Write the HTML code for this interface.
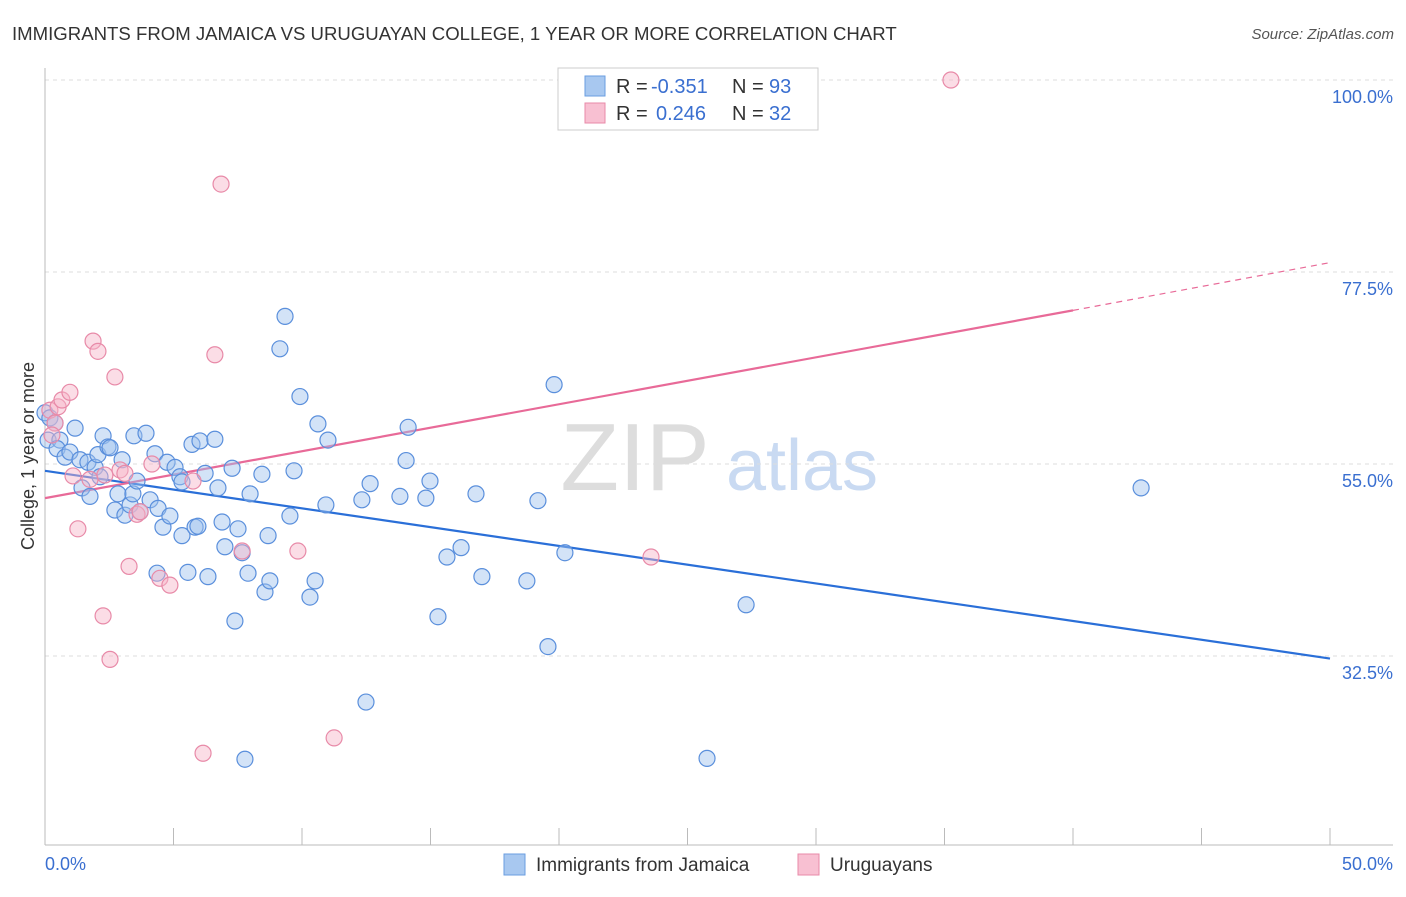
<!DOCTYPE html>
<html><head><meta charset="utf-8"><style>
body{margin:0;background:#fff;font-family:"Liberation Sans",sans-serif}
svg text{font-family:"Liberation Sans",sans-serif}
</style></head><body>
<svg id="chart" width="1406" height="892" xmlns="http://www.w3.org/2000/svg">
<text x="12" y="40" font-size="18.6" fill="#333">IMMIGRANTS FROM JAMAICA VS URUGUAYAN COLLEGE, 1 YEAR OR MORE CORRELATION CHART</text>
<text x="1394" y="39" font-size="15" fill="#555" font-style="italic" text-anchor="end">Source: ZipAtlas.com</text>
<text transform="translate(34,456) rotate(-90)" font-size="18" fill="#333" text-anchor="middle">College, 1 year or more</text>
<g><text x="635" y="490" font-size="96" fill="#ddd" font-family="Liberation Serif" text-anchor="middle">ZIP</text><text x="802" y="490" font-size="72" fill="#c9daf2" text-anchor="middle">atlas</text></g>
<g id="grid"></g><g id="axes"></g><g id="trend"></g><g id="pts"></g>
<g>
<rect x="558" y="68" width="260" height="62" fill="#fff" stroke="#ccc"/>
<rect x="585" y="76" width="20" height="20" fill="#a8c8f0" stroke="#6a9ee0"/>
<rect x="585" y="103" width="20" height="20" fill="#f8c0d2" stroke="#e88aa8"/>
<text x="616" y="93" font-size="20" fill="#333">R =</text><text x="651" y="93" font-size="20" fill="#3a6fd0">-0.351</text>
<text x="732" y="93" font-size="20" fill="#333">N =</text><text x="769" y="93" font-size="20" fill="#3a6fd0">93</text>
<text x="616" y="120" font-size="20" fill="#333">R =</text><text x="656" y="120" font-size="20" fill="#3a6fd0">0.246</text>
<text x="732" y="120" font-size="20" fill="#333">N =</text><text x="769" y="120" font-size="20" fill="#3a6fd0">32</text>
</g>
<g>
<rect x="504" y="854" width="21" height="21" fill="#a8c8f0" stroke="#6a9ee0"/>
<text x="536" y="871" font-size="19" fill="#333">Immigrants from Jamaica</text>
<rect x="798" y="854" width="21" height="21" fill="#f8c0d2" stroke="#e88aa8"/>
<text x="830" y="871" font-size="19" fill="#333">Uruguayans</text>
</g>
</svg>
<script>
const yTicks=[100,77.5,55,32.5];
const yTickLabels=["100.0%","77.5%","55.0%","32.5%"];
const xTicks=[0,5,10,15,20,25,30,35,40,45,50];
const blueX=[0,0.19,0.39,0.12,0.58,0.47,1.17,0.78,0.97,1.36,1.67,1.95,2.14,2.06,1.44,1.75,2.26,2.45,2.53,3.0,2.84,2.72,3.11,3.31,3.42,3.58,3.46,3.93,3.7,4.09,4.28,4.4,4.59,4.86,4.75,5.06,5.25,5.33,5.33,5.72,6.03,5.84,5.95,6.61,6.23,6.73,6.89,7.0,7.28,7.51,7.67,7.9,7.98,8.44,8.68,8.56,8.75,7.39,9.53,9.69,9.14,9.34,9.92,10.31,10.62,10.51,11.01,10.93,12.33,12.65,12.49,13.81,14.05,14.13,14.82,14.98,15.29,15.64,16.19,16.77,17.0,18.75,19.18,19.57,19.81,20.23,4.36,5.56,6.34,27.28,25.76,42.65,7.78];
const blueY=[61.0,60.4,59.8,57.8,57.8,56.8,59.2,55.8,56.4,55.5,55.2,54.6,53.5,56.1,52.2,51.2,58.3,57.0,56.9,55.5,51.5,49.6,49.0,50.2,51.5,53.0,58.3,58.6,49.4,50.8,56.2,49.8,47.6,48.9,55.2,54.6,53.5,52.9,46.6,57.3,57.7,47.6,47.7,57.9,53.9,52.2,48.2,45.3,54.5,47.4,44.6,42.2,51.5,53.8,46.6,40.0,41.3,36.6,48.9,54.2,68.5,72.3,62.9,39.4,59.7,41.3,57.8,50.2,50.8,52.7,27.1,51.2,55.4,59.3,51.0,53.0,37.1,44.1,45.2,51.5,41.8,41.3,50.7,33.6,64.3,44.6,42.2,42.3,41.8,38.5,20.5,52.2,20.4];
const pinkX=[0.19,0.39,0.27,0.51,0.66,0.97,1.87,2.06,2.72,1.09,1.75,1.28,2.92,3.11,3.27,2.26,2.53,3.58,3.7,4.16,4.47,4.86,5.76,6.85,6.61,7.67,9.84,11.25,6.15,23.58,35.25,2.33];
const pinkY=[61.3,59.8,58.4,61.7,62.5,63.4,69.4,68.2,65.2,53.6,53.2,47.4,54.3,53.9,43.0,37.2,32.1,49.1,49.4,55.0,41.6,40.8,53.0,87.8,67.8,44.8,44.8,22.9,21.1,44.1,100,53.7];
const blueTrend=[[0,54.2],[50,32.2]];
const pinkTrend=[[0,51.0],[40,73.0],[50,78.6]];
const X=v=>45+v*25.7, Y=v=>80+(100-v)*8.533;
const NS="http://www.w3.org/2000/svg";
function mk(p,t,a){const e=document.createElementNS(NS,t);for(const k in a)e.setAttribute(k,a[k]);p.appendChild(e);return e;}
const grid=document.getElementById('grid'),axes=document.getElementById('axes'),trend=document.getElementById('trend'),pts=document.getElementById('pts');
yTicks.forEach((t,i)=>{
 const l=mk(grid,'line',{x1:45,x2:1393,y1:Y(t),y2:Y(t),stroke:'#ddd','stroke-dasharray':'4,4'});
 
 
 const tx=mk(axes,'text',{x:1393,y:Y(t)+23,'font-size':18,fill:'#3a6fd0','text-anchor':'end'});tx.textContent=yTickLabels[i];
 
 
});
mk(axes,'line',{x1:45,x2:45,y1:68,y2:845,stroke:'#bbb'});
mk(axes,'line',{x1:45,x2:1393,y1:845,y2:845,stroke:'#bbb'});
xTicks.forEach(t=>{const l=mk(axes,'line',{x1:X(t),x2:X(t),y1:828,y2:845,stroke:'#bbb'});
 
 });
const x0=mk(axes,'text',{x:45,y:870,'font-size':18,fill:'#3a6fd0'});x0.textContent='0.0%';


const x1=mk(axes,'text',{x:1393,y:870,'font-size':18,fill:'#3a6fd0','text-anchor':'end'});x1.textContent='50.0%';


function dots(xs,ys,fill,stroke,name){xs.forEach((x,i)=>{const c=mk(pts,'circle',{cx:X(x),cy:Y(ys[i]),r:8,fill:fill,'fill-opacity':0.45,stroke:stroke,'stroke-width':1.2});
 
 });}
dots(blueX,blueY,'#9dc0ee','#5a8fdc','point-jamaica');
dots(pinkX,pinkY,'#f6b3c8','#e88aa8','point-uruguayans');
const bt=mk(trend,'line',{x1:X(blueTrend[0][0]),y1:Y(blueTrend[0][1]),x2:X(blueTrend[1][0]),y2:Y(blueTrend[1][1]),stroke:'#2a6fd8','stroke-width':2.2});


const pt=mk(trend,'line',{x1:X(pinkTrend[0][0]),y1:Y(pinkTrend[0][1]),x2:X(pinkTrend[1][0]),y2:Y(pinkTrend[1][1]),stroke:'#e86a98','stroke-width':2.2});


const pd=mk(trend,'line',{x1:X(pinkTrend[1][0]),y1:Y(pinkTrend[1][1]),x2:X(pinkTrend[2][0]),y2:Y(pinkTrend[2][1]),stroke:'#e86a98','stroke-width':1.2,'stroke-dasharray':'6,5'});


</script>
</body></html>
